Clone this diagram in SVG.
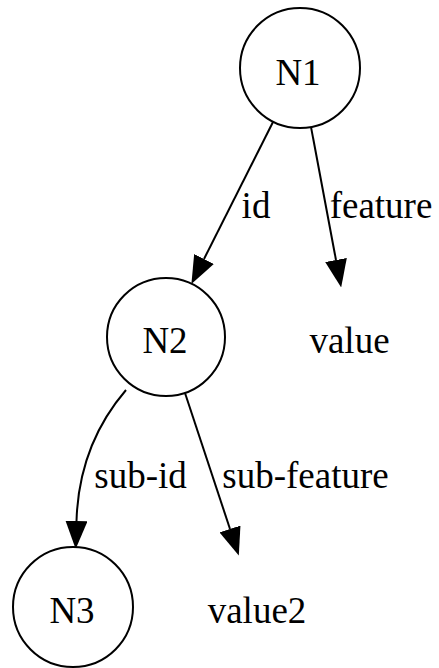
<svg xmlns="http://www.w3.org/2000/svg" width="439" height="668" viewBox="0 0 439 668">
<defs>
<style>
.node circle{fill:#fff;stroke:#000;stroke-width:2}
text{font-family:"Liberation Serif","Times New Roman",serif;font-size:37px;fill:#000}
.c{text-anchor:middle}
.edges path{fill:none;stroke:#000;stroke-width:2}
</style>
<marker id="ah" markerUnits="userSpaceOnUse" markerWidth="28" markerHeight="22" refX="0" refY="11" orient="auto" viewBox="0 0 28 22">
<path d="M0,0 L28,11 L0,22 z" fill="#000"/>
</marker>
</defs>
<rect width="439" height="668" fill="#fff"/>
<g class="edges">
<path d="M273,122 L204,259" marker-end="url(#ah)"/>
<path d="M311,127 L336,260" marker-end="url(#ah)"/>
<path d="M126,390 C96,425 78,470 76.5,521" marker-end="url(#ah)"/>
<path d="M185,393 L230,529" marker-end="url(#ah)"/>
<text x="256" y="218" class="c">id</text>
<text x="381" y="218" class="c">feature</text>
<text x="140.5" y="488" class="c">sub-id</text>
<text x="305.5" y="488" class="c">sub-feature</text>
</g>
<g id="N1" class="node"><circle cx="300" cy="68" r="60"/><text x="298" y="85" class="c">N1</text></g>
<g id="N2" class="node"><circle cx="166" cy="337" r="59"/><text x="165" y="353" class="c">N2</text></g>
<g id="N3" class="node"><circle cx="73" cy="607" r="60"/><text x="72" y="623" class="c">N3</text></g>
<g id="value"><text x="349.5" y="353" class="c">value</text></g>
<g id="value2"><text x="257" y="623" class="c">value2</text></g>
</svg>
